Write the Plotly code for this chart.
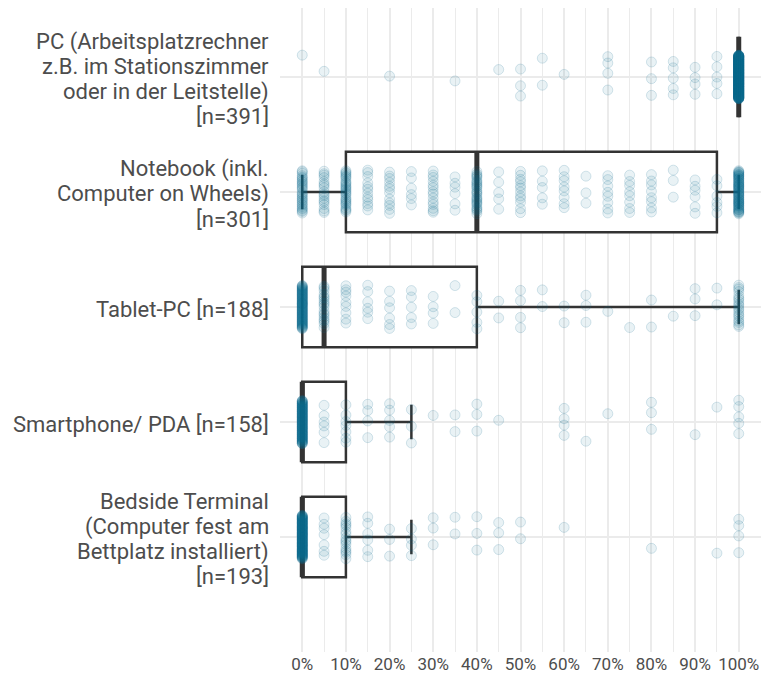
import numpy as np
import plotly.graph_objects as go

# Answer levels (share of documentation done on the device), in percent
pct_levels = [0, 5, 10, 15, 20, 25, 30, 35, 40, 45, 50,
              55, 60, 65, 70, 75, 80, 85, 90, 95, 100]

# Number of respondents per answer level, one list per device
counts_pc = [1, 1, 0, 0, 1, 0, 0, 1, 0, 1, 3, 2, 1, 0, 4, 0, 3, 5, 4, 5, 359]
counts_notebook = [32, 18, 30, 12, 12, 6, 14, 6, 28, 5, 12, 5, 8, 3, 8, 8, 8, 3, 6, 6, 71]
counts_tablet = [90, 18, 9, 6, 6, 5, 4, 2, 5, 2, 4, 2, 2, 3, 1, 1, 2, 1, 3, 2, 20]
counts_smartphone = [110, 6, 7, 4, 5, 3, 1, 2, 3, 1, 0, 0, 4, 1, 1, 0, 3, 0, 1, 1, 5]
counts_bedside = [137, 7, 16, 6, 3, 4, 3, 2, 3, 3, 2, 0, 1, 0, 0, 0, 1, 0, 0, 1, 4]

# Device name lines as wrapped on the axis; the n line/suffix is appended below
device_names = [
    ["PC (Arbeitsplatzrechner", "z.B. im Stationszimmer", "oder in der Leitstelle)", ""],
    ["Notebook (inkl.", "Computer on Wheels)", ""],
    ["Tablet-PC "],
    ["Smartphone/ PDA "],
    ["Bedside Terminal", "(Computer fest am", "Bettplatz installiert)", ""],
]
device_counts = [counts_pc, counts_notebook, counts_tablet, counts_smartphone, counts_bedside]

x_tick_vals = [0, 10, 20, 30, 40, 50, 60, 70, 80, 90, 100]

BOX_COLOR = "#333333"
POINT_RGB = "16,108,140"
GRID = "#ebebeb"
TEXT = "#4d4d4d"
BOX_W = 0.7
JITTER = 0.19
GOLD = 0.6180339887
LABEL_SIZE = 22
LINE_STEP = 25  # px between wrapped label lines

fig = go.Figure()

positions = list(range(1, len(device_names) + 1))
label_lines, samples = [], []
for name, counts in zip(device_names, device_counts):
    vals = np.repeat(np.array(pct_levels, dtype=float) / 100.0, counts)
    samples.append(vals)
    lines = list(name)
    lines[-1] = f"{lines[-1]}[n={int(sum(counts))}]"
    label_lines.append(lines)

# Box statistics (quartiles, whiskers at the last value within 1.5 IQR)
q1s, meds, q3s, lows, highs = [], [], [], [], []
for vals in samples:
    q1, med, q3 = np.percentile(vals, [25, 50, 75])
    iqr = q3 - q1
    lo = vals[vals >= q1 - 1.5 * iqr].min()
    hi = vals[vals <= q3 + 1.5 * iqr].max()
    q1s.append(q1); meds.append(med); q3s.append(q3); lows.append(lo); highs.append(hi)

fig.add_trace(go.Box(
    orientation="h",
    y=positions,
    q1=q1s, median=meds, q3=q3s,
    lowerfence=lows, upperfence=highs,
    width=BOX_W,
    whiskerwidth=0.43,
    fillcolor="white",
    line=dict(color=BOX_COLOR, width=2.5),
    boxpoints=False,
    hoverinfo="skip",
    showlegend=False,
))

# Thicker median bars
mx, my = [], []
for p, m in zip(positions, meds):
    mx += [m, m, None]
    my += [p - BOX_W / 2, p + BOX_W / 2, None]
fig.add_trace(go.Scatter(
    x=mx, y=my, mode="lines",
    line=dict(color=BOX_COLOR, width=5),
    hoverinfo="skip", showlegend=False,
))

# Individual answers, vertically jittered around each device row
for i, (p, counts) in enumerate(zip(positions, device_counts)):
    xs, ys = [], []
    for j, (lvl, c) in enumerate(zip(pct_levels, counts)):
        phase = (0.37 * j + 0.71 * i) % 1.0
        for k in range(c):
            frac = (phase + k * GOLD) % 1.0
            xs.append(lvl / 100.0)
            ys.append(p + JITTER * (2 * frac - 1))
    fig.add_trace(go.Scatter(
        x=xs, y=ys, mode="markers",
        marker=dict(size=10, color=f"rgba({POINT_RGB},0.09)",
                    line=dict(color=f"rgba({POINT_RGB},0.17)", width=1)),
        hoverinfo="skip", showlegend=False,
    ))

# Category labels: one right-aligned text line each, stacked around the row
annotations = []
for p, lines in zip(positions, label_lines):
    n = len(lines)
    for k, line in enumerate(lines):
        annotations.append(dict(
            x=0, xref="paper", xanchor="right", xshift=-9,
            y=p, yref="y", yanchor="middle",
            yshift=((n - 1) / 2 - k) * LINE_STEP - 2,
            text=line, showarrow=False,
            font=dict(size=LABEL_SIZE, color=TEXT, family="Roboto"),
        ))

fig.update_layout(
    width=763, height=679,
    margin=dict(l=280, r=2, t=8, b=27),
    paper_bgcolor="white", plot_bgcolor="white",
    font=dict(family="Roboto", color=TEXT),
    annotations=annotations,
    xaxis=dict(
        range=[-0.051, 1.051],
        tickvals=[v / 100 for v in x_tick_vals],
        ticktext=[f"{v}%" for v in x_tick_vals],
        tickfont=dict(size=17, color=TEXT),
        showgrid=True, gridcolor=GRID, gridwidth=2,
        minor=dict(dtick=0.05, tick0=-0.05, showgrid=True, gridcolor=GRID, gridwidth=1),
        zeroline=False, showline=False, ticks="",
    ),
    yaxis=dict(
        range=[6.0, 0.4],
        tickvals=positions,
        showticklabels=False,
        showgrid=True, gridcolor=GRID, gridwidth=2,
        zeroline=False, showline=False, ticks="",
    ),
)

fig.write_html("out.html")
